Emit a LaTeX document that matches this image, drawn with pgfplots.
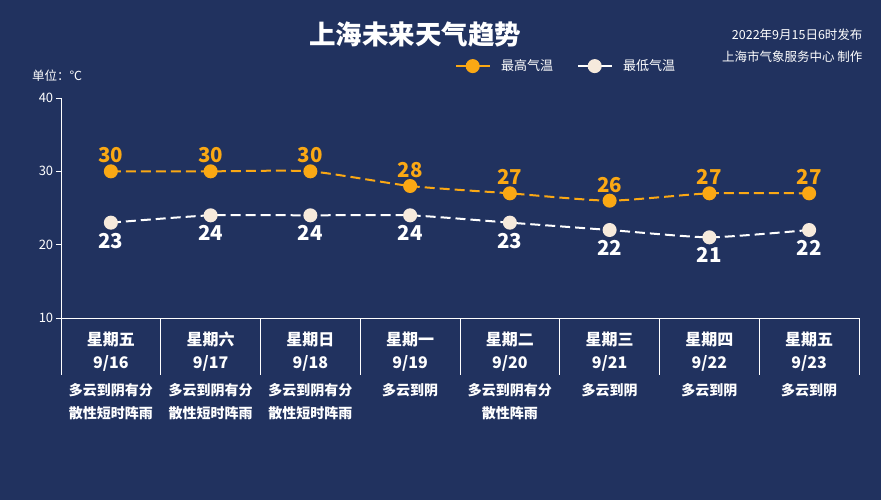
\documentclass[border=0pt]{standalone}
\usepackage{pgfplots}
\pgfplotsset{compat=1.18}
\usepackage{fontspec}
\setmainfont{Noto Sans CJK SC}
\definecolor{bg}{RGB}{33,50,95}
\definecolor{hi}{RGB}{250,168,20}
\definecolor{lomk}{RGB}{246,234,220}
\newcommand{\wx}[1]{{\fontsize{14}{24}\selectfont #1}}

\begin{document}
\begin{tikzpicture}[x=1pt,y=1pt]
\fill[bg] (0,0) rectangle (881,500);
\begin{axis}[
    at={(61pt,182pt)}, anchor=south west,
    width=798pt, height=220pt, scale only axis,
    xmin=0.5, xmax=8.5, ymin=10, ymax=40,
    axis x line*=bottom, axis y line*=left,
    axis line style={white, line width=0.8pt},
    ytick={10,20,30,40},
    yticklabel style={text=white, font=\fontsize{13}{13}\selectfont},
    /pgf/number format/assume math mode=true,
    ytick style={white, line width=0.8pt, /pgfplots/major tick length=5pt},
    tick align=outside,
    xtick={0.5,1.5,...,8.5}, xticklabels={},
    xtick style={white, line width=0.8pt, /pgfplots/major tick length=57pt},
    extra x ticks={1,2,3,4,5,6,7,8},
    extra x tick style={/pgfplots/major tick length=0pt, xtick style={draw=none}},
    extra x tick labels={
      {星期五\\9/16\\[4pt]\wx{多云到阴有分}\\\wx{散性短时阵雨}},
      {星期六\\9/17\\[4pt]\wx{多云到阴有分}\\\wx{散性短时阵雨}},
      {星期日\\9/18\\[4pt]\wx{多云到阴有分}\\\wx{散性短时阵雨}},
      {星期一\\9/19\\[4pt]\wx{多云到阴}},
      {星期二\\9/20\\[4pt]\wx{多云到阴有分}\\\wx{散性阵雨}},
      {星期三\\9/21\\[4pt]\wx{多云到阴}},
      {星期四\\9/22\\[4pt]\wx{多云到阴}},
      {星期五\\9/23\\[4pt]\wx{多云到阴}}},
    xticklabel style={text=white, align=center, anchor=north, yshift=-10pt,
      font=\bfseries\fontsize{16}{23}\selectfont},
    legend style={draw=none, fill=none, text=white,
      font=\fontsize{13}{13}\selectfont, legend columns=2,
      at={(0.49,1.145)}, anchor=west,
      /tikz/every odd column/.append style={column sep=9pt},
      /tikz/every even column/.append style={column sep=22pt}},
    legend image code/.code={\draw[mark repeat=2, mark phase=2, #1, solid]
      plot coordinates {(0pt,0pt) (16.5pt,0pt) (33pt,0pt)};},
    clip=false,
]
\addplot[hi, line width=2pt, dash pattern=on 10pt off 5pt, smooth, tension=0.35,
    mark=*, mark size=6pt, mark options={solid, fill=hi, draw=hi},
    nodes near coords,
    every node near coord/.append style={text=hi, anchor=south, yshift=4pt,
      font=\bfseries\fontsize{20.5}{20.5}\selectfont}]
  coordinates {(1,30) (2,30) (3,30) (4,28) (5,27) (6,26) (7,27) (8,27)};
\addlegendentry{最高气温}
\addplot[white, line width=2pt, dash pattern=on 10pt off 5pt, smooth, tension=0.35,
    mark=*, mark size=6pt, mark options={solid, fill=lomk, draw=lomk},
    nodes near coords,
    every node near coord/.append style={text=white, anchor=north, yshift=-6pt,
      font=\bfseries\fontsize{20.5}{20.5}\selectfont}]
  coordinates {(1,23) (2,24) (3,24) (4,24) (5,23) (6,22) (7,21) (8,22)};
\addlegendentry{最低气温}
\end{axis}
\node[text=white, font=\bfseries\fontsize{26.5}{26.5}\selectfont] at (415,465) {上海未来天气趋势};
\node[text=white, anchor=east, font=\fontsize{12.5}{12.5}\selectfont] at (866,465) {2022年9月15日6时发布};
\node[text=white, anchor=east, font=\fontsize{12.5}{12.5}\selectfont] at (866,443) {上海市气象服务中心 制作};
\node[text=white, font=\fontsize{12.5}{12.5}\selectfont] at (57,424) {单位：℃};
\pgfresetboundingbox
\path[use as bounding box] (0,0) rectangle (881,500);
\end{tikzpicture}
\end{document}
